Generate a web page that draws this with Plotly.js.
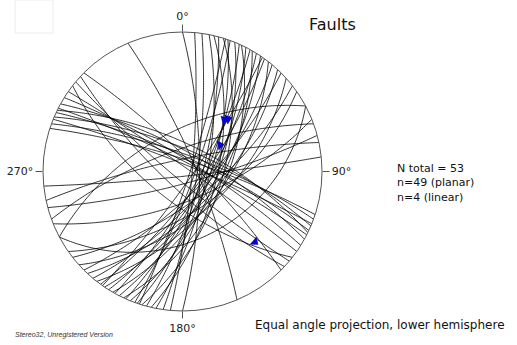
<!DOCTYPE html>
<html>
<head>
<meta charset="utf-8">
<script src="https://cdn.plot.ly/plotly-3.0.1.min.js"></script>
<style>html,body{margin:0;padding:0;background:#fff;}#chart{width:517px;height:345px;}</style>
</head>
<body>
<div id="chart"></div>
<script>
// Planar data (right-hand rule: dip direction = strike + 90)
const planeStrikes = [8, 11, 13, 15, 17, 19, 20, 22, 24, 25, 27, 29, 30, 32, 34, 36, 38, 40, 43, 45, 48, 52, 55, 35, 18,
                      288, 290, 292, 293, 295, 297, 299, 302, 305,
                      130, 133, 315, 337,
                      0,
                      242, 62, 84, 250, 258, 68, 75,
                      128, 296, 5];
const planeDips    = [78, 70, 62, 74, 58, 68, 80, 63, 72, 56, 67, 76, 60, 70, 64, 74, 57, 68, 61, 72, 55, 66, 58, 82, 84,
                      80, 76, 84, 72, 78, 82, 74, 80, 86,
                      83, 76, 80, 79,
                      76,
                      58, 38, 86, 72, 80, 66, 80,
                      65, 68, 82];
// Linear data
const lineTrends  = [38.9, 40.9, 54.8, 134.2];
const linePlunges = [39.2, 37.0, 53.6, 18.2];
const arrowAngles = [-15, -20, -10, 40];
// Axis tick labels
const tickAngles = [0, 90, 180, 270];
const tickLabels = ['0°', '90°', '180°', '270°'];
// Info texts
const infoLines = ['N total = 53', 'n=49 (planar)', 'n=4 (linear)'];

const D = Math.PI / 180;
function eqAngleR(plunge) { return Math.tan((90 - plunge) / 2 * D); }

function greatCircle(strike, dip) {
  const s = strike * D, d = dip * D, dd = s + Math.PI / 2;
  const sv = [Math.sin(s), Math.cos(s), 0];
  const dv = [Math.cos(d) * Math.sin(dd), Math.cos(d) * Math.cos(dd), Math.sin(d)];
  const r = [], th = [];
  for (let a = 0; a <= 180; a += 1) {
    const ca = Math.cos(a * D), sa = Math.sin(a * D);
    const v = [ca * sv[0] + sa * dv[0], ca * sv[1] + sa * dv[1], ca * sv[2] + sa * dv[2]];
    const pl = Math.asin(Math.max(-1, Math.min(1, v[2]))) / D;
    let tr = Math.atan2(v[0], v[1]) / D;
    if (tr < 0) tr += 360;
    r.push(eqAngleR(pl));
    th.push(tr);
  }
  return {r, th};
}

const traces = [];
for (let i = 0; i < planeStrikes.length; i++) {
  const gc = greatCircle(planeStrikes[i], planeDips[i]);
  traces.push({
    type: 'scatterpolar', mode: 'lines', r: gc.r, theta: gc.th,
    line: {color: 'rgba(0,0,0,0.9)', width: 0.9}, hoverinfo: 'skip', showlegend: false
  });
}
traces.push({
  type: 'scatterpolar', mode: 'markers',
  r: linePlunges.map(eqAngleR), theta: lineTrends,
  marker: {symbol: 'triangle-right', size: 8, color: '#0000e0', angle: arrowAngles,
           line: {color: '#000080', width: 0.5}},
  hoverinfo: 'skip', showlegend: false
});

const annotations = [
  {text: 'Faults', xref: 'paper', yref: 'paper', x: 307 / 517, y: 1 - 25 / 345, xanchor: 'left', yanchor: 'middle',
   showarrow: false, font: {family: 'DejaVu Sans', size: 16, color: '#111'}},
  {text: infoLines.join('<br>'), xref: 'paper', yref: 'paper', x: 395 / 517, y: 1 - 183 / 345,
   xanchor: 'left', yanchor: 'middle', align: 'left', showarrow: false,
   font: {family: 'DejaVu Sans', size: 11, color: '#111'}},
  {text: 'Equal angle projection, lower hemisphere', xref: 'paper', yref: 'paper', x: 253 / 517, y: 1 - 325 / 345,
   xanchor: 'left', yanchor: 'middle', showarrow: false, font: {family: 'DejaVu Sans', size: 12, color: '#111'}},
  {text: '<i>Stereo32, Unregistered Version</i>', xref: 'paper', yref: 'paper', x: 13 / 517, y: 1 - 335 / 345,
   xanchor: 'left', yanchor: 'middle', showarrow: false, font: {family: 'Liberation Sans', size: 7, color: '#333'}}
];

const layout = {
  width: 517, height: 345,
  margin: {l: 0, r: 0, t: 0, b: 0},
  paper_bgcolor: '#fff',
  showlegend: false,
  polar: {
    domain: {x: [43 / 517, 322 / 517], y: [1 - 311 / 345, 1 - 32 / 345]},
    bgcolor: '#fff',
    radialaxis: {visible: false, range: [0, 1]},
    angularaxis: {
      rotation: 90, direction: 'clockwise',
      showgrid: false, showline: true, linecolor: '#555', linewidth: 1,
      ticks: 'outside', ticklen: 7, tickcolor: '#555', tickwidth: 1,
      tickmode: 'array', tickvals: tickAngles, ticktext: tickLabels,
      tickfont: {family: 'DejaVu Sans', size: 11, color: '#222'}
    }
  },
  shapes: [
    {type: 'rect', xref: 'paper', yref: 'paper', x0: 15 / 517, x1: 53 / 517, y0: 1 - 33 / 345, y1: 1,
     line: {color: '#ececec', width: 1}}
  ],
  annotations: annotations
};

Plotly.newPlot('chart', traces, layout, {staticPlot: true, displayModeBar: false});
</script>
</body>
</html>
